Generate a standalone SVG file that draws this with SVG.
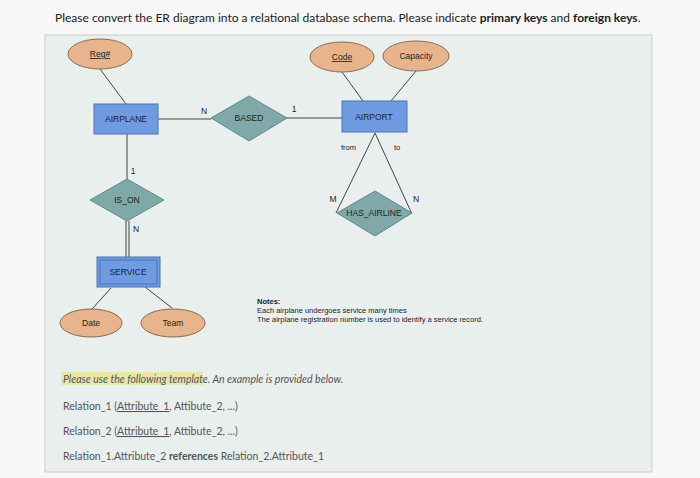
<svg xmlns="http://www.w3.org/2000/svg" width="700" height="478" viewBox="0 0 700 478">
<style>
.ln{stroke:#444;stroke-width:1;fill:none}
.attr{fill:#e8b48c;stroke:#8a6a50;stroke-width:1}
.ent{fill:#6f9be0;stroke:#4a72b8;stroke-width:1}
.rel{fill:#7fa9a8;stroke:#5e8a8a;stroke-width:1}
.t{font-family:"Liberation Sans",Arial,sans-serif;font-size:8.5px;fill:#222;text-anchor:middle}
.tl{font-family:"Liberation Sans",Arial,sans-serif;font-size:7.5px;fill:#222}
.tp{font-family:Lato,"Liberation Sans",sans-serif;font-size:10.5px;fill:#555}
</style>
<rect width="700" height="478" fill="#f6f7f6"/>
<text x="55" y="22" font-family="Lato,'Liberation Sans',sans-serif" font-size="12" fill="#222">Please convert the ER diagram into a relational database schema. Please indicate <tspan font-weight="bold">primary keys</tspan> and <tspan font-weight="bold">foreign keys</tspan>.</text>
<rect x="45" y="35" width="607" height="437" fill="#e9efed" stroke="#ccc"/>
<g id="connectors">
<line class="ln" x1="100" y1="69" x2="126" y2="104"/>
<line class="ln" x1="342" y1="72" x2="363" y2="101"/>
<line class="ln" x1="416" y1="71" x2="391" y2="101"/>
<line class="ln" x1="158" y1="119" x2="211" y2="119"/>
<line class="ln" x1="287" y1="118" x2="342" y2="118"/>
<line class="ln" x1="375" y1="133" x2="336" y2="213"/>
<line class="ln" x1="375" y1="133" x2="412" y2="214"/>
<line class="ln" x1="127" y1="134" x2="127" y2="179"/>
<line class="ln" x1="126" y1="221" x2="126" y2="257"/>
<line class="ln" x1="129" y1="221" x2="129" y2="257"/>
<line class="ln" x1="111" y1="288" x2="92" y2="309"/>
<line class="ln" x1="145" y1="287" x2="172" y2="308"/>
<text class="t" x="204" y="114">N</text>
<text class="t" x="294" y="112">1</text>
<text class="tl" x="341" y="150">from</text>
<text class="tl" x="394" y="150">to</text>
<text class="t" x="333" y="202">M</text>
<text class="t" x="416" y="202">N</text>
<text class="t" x="133" y="174">1</text>
<text class="t" x="136" y="232">N</text>
</g>
<g id="reg"><ellipse class="attr" cx="100" cy="54" rx="32" ry="15"/><text class="t" x="100" y="57" text-decoration="underline">Reg#</text></g>
<g id="code"><ellipse class="attr" cx="342" cy="57" rx="32" ry="15"/><text class="t" x="342" y="60" text-decoration="underline">Code</text></g>
<g id="capacity"><ellipse class="attr" cx="416" cy="56" rx="33" ry="15"/><text class="t" x="416" y="59">Capacity</text></g>
<g id="airplane"><rect class="ent" x="94" y="104" width="64" height="30"/><text class="t" x="126" y="122">AIRPLANE</text></g>
<g id="based"><polygon class="rel" points="211,118 249,96 287,118 249,141"/><text class="t" x="249" y="121">BASED</text></g>
<g id="airport"><rect class="ent" x="342" y="101" width="65" height="31"/><text class="t" x="374" y="120">AIRPORT</text></g>
<g id="has_airline"><polygon class="rel" points="337,213 375,191 412,213 375,236"/><text class="t" x="374" y="216">HAS_AIRLINE</text></g>
<g id="is_on"><polygon class="rel" points="90,200 127,179 164,200 127,221"/><text class="t" x="127" y="203">IS_ON</text></g>
<g id="service"><rect class="ent" x="97" y="257" width="63" height="30" fill="#8fb3e8"/><rect x="100" y="260" width="57" height="24" fill="none" stroke="#4a72b8"/><text class="t" x="128" y="275">SERVICE</text></g>
<g id="date"><ellipse class="attr" cx="91" cy="323" rx="31" ry="14" fill="#ecd3bf"/><text class="t" x="91" y="326">Date</text></g>
<g id="team"><ellipse class="attr" cx="173" cy="323" rx="32" ry="14" fill="#ecd3bf"/><text class="t" x="173" y="326">Team</text></g>
<g id="notes">
<text class="tl" x="257" y="304" font-weight="bold">Notes:</text>
<text class="tl" x="257" y="313">Each airplane undergoes service many times</text>
<text class="tl" x="257" y="322">The airplane registration number is used to identify a service record.</text>
</g>
<rect x="61" y="372" width="142" height="13" fill="#e8e6a8"/>
<text class="tp" x="63" y="383" font-style="italic">Please use the following template. An example is provided below.</text>
<text class="tp" x="63" y="410">Relation_1 (<tspan text-decoration="underline">Attribute_1</tspan>, Attibute_2, ...)</text>
<text class="tp" x="63" y="435">Relation_2 (<tspan text-decoration="underline">Attribute_1</tspan>, Attibute_2, ...)</text>
<text class="tp" x="63" y="460" fill="#4a5a7a">Relation_1.Attribute_2 <tspan font-weight="bold">references</tspan>  Relation_2.Attribute_1</text>
</svg>
